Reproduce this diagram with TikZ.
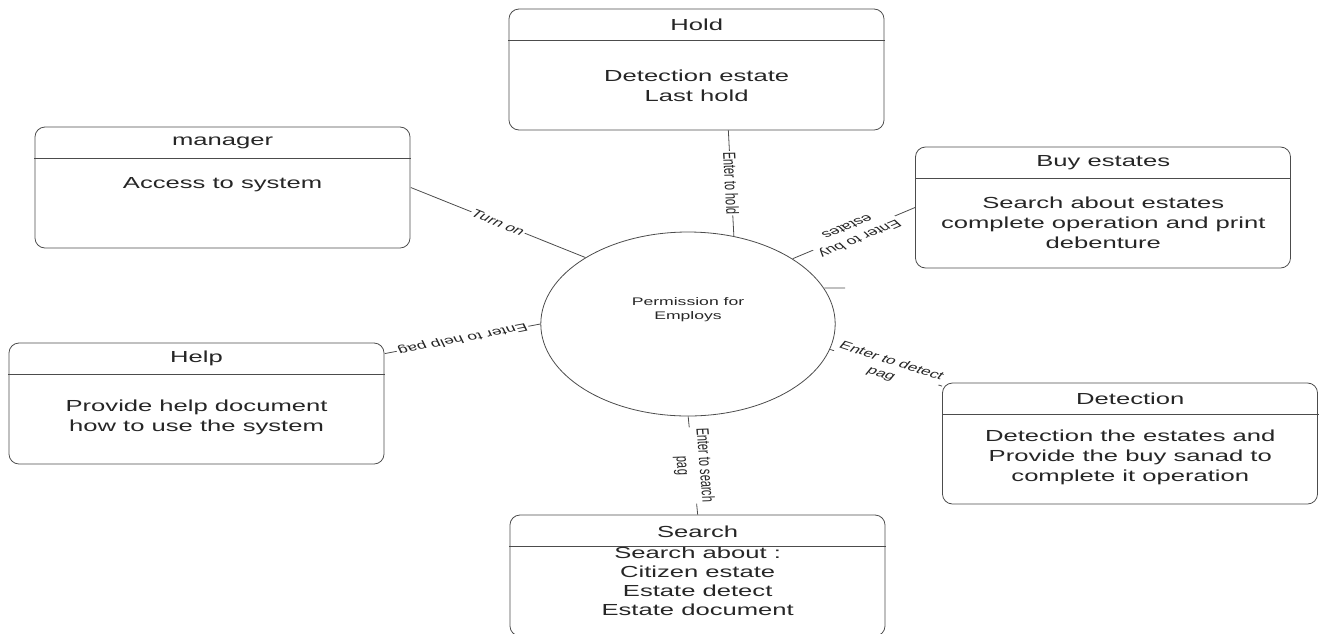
\documentclass[tikz,border=0pt]{standalone}
\usepackage{fontspec}
\setmainfont{Liberation Sans}
\usetikzlibrary{positioning}
\tikzstyle{StateBox}=[rectangle, rounded corners=10pt, draw=black!70, line width=0.8pt, minimum width=234.4pt, minimum height=121pt, inner sep=0pt]
\tikzstyle{StateTitle}=[font=\fontsize{16}{20}\selectfont, text=black!85, inner sep=0pt]
\tikzstyle{StateText}=[font=\fontsize{16}{20}\selectfont, text=black!85, align=center, inner sep=0pt]
\tikzstyle{PermCircle}=[circle, draw=black!70, line width=0.8pt, minimum size=184pt, inner sep=0pt]
\tikzstyle{PermText}=[font=\fontsize{11}{14}\selectfont, text=black!85, align=center, inner sep=0pt]
\tikzstyle{EdgeLabel}=[font=\fontsize{11}{14}\selectfont, text=black!85, fill=white, align=center, inner sep=1pt]
\tikzstyle{Link}=[draw=black!70, line width=0.8pt]

\begin{document}
\begin{tikzpicture}[x=0.625pt, y=-1pt, xscale=1.6, transform shape]
	\useasboundingbox (0,0) rectangle (1319,633);

	%Nodos
	\node[PermCircle]	(perm)		at (688,324)		{};
	\node[PermText]		(perm_text)	at (688,310)		{Permission for\\Employs};

	\node[StateBox]		(hold)		at (696.5,69.5)		{};
	\node[StateBox]		(manager)	at (222.5,187.5)	{};
	\node[StateBox]		(buy)		at (1103,207.5)		{};
	\node[StateBox]		(help)		at (196.5,403.5)	{};
	\node[StateBox]		(detection)	at (1130,443.5)		{};
	\node[StateBox]		(search)	at (697.5,575.5)	{};

	%Titulos
	\node[StateTitle]	(hold_title)		at ([yshift=-16pt]hold.north)		{Hold};
	\node[StateTitle]	(manager_title)		at ([yshift=-16pt]manager.north)	{manager};
	\node[StateTitle]	(buy_title)		at ([yshift=-16pt]buy.north)		{Buy estates};
	\node[StateTitle]	(help_title)		at ([yshift=-16pt]help.north)		{Help};
	\node[StateTitle]	(detection_title)	at ([yshift=-16pt]detection.north)	{Detection};
	\node[StateTitle]	(search_title)		at ([yshift=-17pt]search.north)		{Search};

	%Textos
	\node[StateText]	(hold_text)		at ([yshift=-77pt]hold.north)		{Detection estate\\Last hold};
	\node[StateText]	(manager_text)		at ([yshift=-58pt]manager.north)	{Access to system};
	\node[StateText]	(buy_text)		at ([yshift=-76pt]buy.north)		{Search about estates\\complete operation and print\\debenture};
	\node[StateText]	(help_text)		at ([yshift=-75pt]help.north)		{Provide help document\\how to use the system};
	\node[StateText]	(detection_text)	at ([yshift=-75pt]detection.north)	{Detection the estates and\\Provide the buy sanad to\\complete it operation};
	\node[StateText, font=\fontsize{16}{19}\selectfont]	(search_text)	at ([yshift=-66.5pt]search.north)	{Search about :\\Citizen estate\\Estate detect\\Estate document};

	%Cabeceras
	\foreach \st in {hold,manager,buy,help,detection,search}
		\draw[Link] ([yshift=-32pt]\st.north west) -- ([yshift=-32pt]\st.north east);

	%Conexiones
	\draw[Link] (hold.-72) -- node[EdgeLabel, rotate=-88] {Enter to hold} (perm.72);
	\draw[Link] (manager.east) -- node[EdgeLabel, rotate=-33] {Turn on} (perm.134);
	\draw[Link] (perm.45) -- node[EdgeLabel, rotate=213.8] {Enter to buy\\estates} (buy.west);
	\coordinate (stub_end) at (845,288);
	\draw[Link] (perm.23) -- (stub_end);
	\draw[Link] (perm.west) -- node[EdgeLabel, rotate=197] {Enter to help pag} (help.23);
	\draw[Link] (perm.-16) -- node[EdgeLabel, rotate=-27] {Enter to detect\\pag} (detection.154);
	\draw[Link] (perm.south) -- node[EdgeLabel, rotate=-87] {Enter to search\\pag} (search.north);

\end{tikzpicture}
\end{document}
